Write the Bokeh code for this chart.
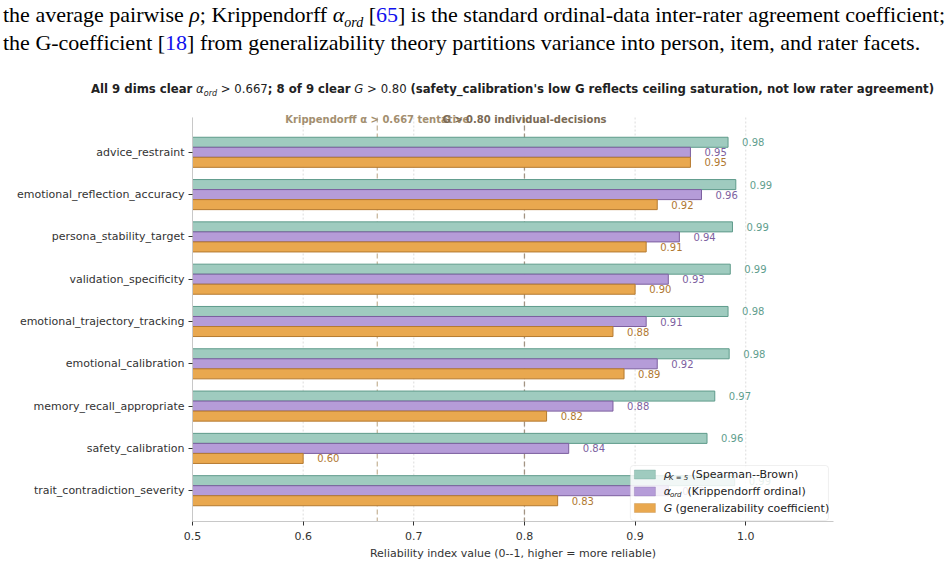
from bokeh.plotting import figure
from bokeh.models import (Range1d, FixedTicker, PrintfTickFormatter, Label, BoxAnnotation,
                          Div, ColumnDataSource)
from bokeh.layouts import column
from bokeh.embed import file_html
from bokeh.resources import INLINE

# ---------------- data ----------------
dims = ["advice_restraint", "emotional_reflection_accuracy", "persona_stability_target",
        "validation_specificity", "emotional_trajectory_tracking", "emotional_calibration",
        "memory_recall_appropriate", "safety_calibration", "trait_contradiction_severity"]
rho_k5 = [0.984, 0.991, 0.988, 0.986, 0.984, 0.985, 0.972, 0.965, 0.990]
alpha_ord = [0.950, 0.960, 0.940, 0.930, 0.910, 0.920, 0.880, 0.840, 0.930]
g_coef = [0.950, 0.920, 0.910, 0.900, 0.880, 0.890, 0.820, 0.600, 0.830]
x_ticks = [0.5, 0.6, 0.7, 0.8, 0.9, 1.0]
thresholds = [0.667, 0.80]

FONT = "DejaVu Sans"
# series styling: (fill, edge, label colour)
styles = [("#9fcbbf", "#5f9b8b", "#5f9e8e"),
          ("#b59cd8", "#7c5f9f", "#7d5fa0"),
          ("#e9a84f", "#b57a30", "#b07830")]
series = [rho_k5, alpha_ord, g_coef]

# ---------------- geometry helpers (page px -> data) ----------------
FIG_TOP = 105
X0_PX, X_SCALE = 192.3, 1106.0
Y0_PX, Y_SCALE = 151.8, 42.3
def px2x(px):
    return 0.5 + (px - X0_PX) / X_SCALE
def px2y(py):
    return (py - Y0_PX) / Y_SCALE

AX_TOP, AX_BOT = 117, 521
BAR_H = 0.237
offsets = [-BAR_H, 0.0, BAR_H]

p = figure(width=947, height=459, output_backend="svg", toolbar_location=None,
           x_range=Range1d(0.5, px2x(833)), y_range=Range1d(px2y(AX_BOT), px2y(109)),
           min_border_left=192, min_border_right=114, min_border_top=4, min_border_bottom=43)
p.outline_line_color = None
p.background_fill_color = "white"
p.border_fill_color = "white"
p.xgrid.visible = False
p.ygrid.visible = False

# grid lines (bounded to the axes area)
p.segment(x0=x_ticks, x1=x_ticks, y0=[px2y(AX_TOP)] * len(x_ticks),
          y1=[px2y(AX_BOT)] * len(x_ticks), line_color="#dcdcdc", line_dash="2 2", line_width=1)

# threshold lines
for t, col in zip(thresholds, ["#c9b89d", "#a39483"]):
    p.segment(x0=[t], x1=[t], y0=[px2y(AX_TOP)], y1=[px2y(AX_BOT)], line_color=col,
              line_dash="5 3", line_width=1.3)

# bars and value labels
idx = list(range(len(dims)))
for vals, off, (fc, ec, tc) in zip(series, offsets, styles):
    ys = [i + off for i in idx]
    src = ColumnDataSource(dict(y=ys, right=vals, lx=[v + 0.0127 for v in vals],
                                txt=[f"{v:.2f}" for v in vals]))
    p.hbar(y="y", right="right", left=0, height=BAR_H, source=src,
           fill_color=fc, line_color=ec, line_width=1)
    p.text(x="lx", y="y", text="txt", source=src, text_color=tc,
           text_font_size="10px", text_baseline="middle", text_align="left",
           text_font={"value": FONT})

# axes
xa = p.xaxis[0]
xa.ticker = FixedTicker(ticks=x_ticks)
xa.formatter = PrintfTickFormatter(format="%.1f")
xa.axis_label = "Reliability index value (0--1, higher = more reliable)"
ya = p.yaxis[0]
ya.ticker = FixedTicker(ticks=idx)
ya.major_label_overrides = {i: d for i, d in enumerate(dims)}
ya.bounds = (px2y(AX_TOP), px2y(AX_BOT))
for ax in (xa, ya):
    ax.minor_tick_line_color = None
    ax.major_tick_in = 0
    ax.major_tick_out = 4
    ax.major_tick_line_color = "#333333"
    ax.axis_line_color = "#c8c8c8"
    ax.major_label_text_font = FONT
    ax.major_label_text_font_size = "11px"
    ax.major_label_text_color = "#333333"
    ax.axis_label_text_font = FONT
    ax.axis_label_text_font_size = "11px"
    ax.axis_label_text_font_style = "normal"
    ax.axis_label_text_color = "#333333"
xa.major_label_standoff = 6
xa.axis_label_standoff = 4
ya.major_label_standoff = 4

# threshold annotations
p.add_layout(Label(x=thresholds[0], y=px2y(118.5), text="Krippendorff \u03b1 > 0.667 tentative",
                   text_align="center", text_baseline="middle", text_font=FONT,
                   text_font_size="10px", text_font_style="bold", text_color="#a38f70"))
p.add_layout(Label(x=thresholds[1], y=px2y(118.5), text="G > 0.80 individual-decisions",
                   text_align="center", text_baseline="middle", text_font=FONT,
                   text_font_size="10px", text_font_style="bold", text_color="#7a6a55"))

# custom legend
p.add_layout(BoxAnnotation(left=px2x(630), right=px2x(828), top=px2y(465), bottom=px2y(520),
                           fill_color="white", fill_alpha=0.85, line_color="#cccccc",
                           line_width=1, border_radius=3))
rows = [474.0, 491.0, 507.5]
for rpy, (fc, ec, tc) in zip(rows, styles):
    p.add_layout(BoxAnnotation(left=px2x(634), right=px2x(655), top=px2y(rpy - 4.5),
                               bottom=px2y(rpy + 4.5), fill_color=fc, fill_alpha=1,
                               line_color=ec, line_width=1))
leg_parts = [
    [(663.3, 0, "\u03c1", "11px", "italic"), (668.5, 3, "K = 5", "7px", "italic"),
     (691.0, 0, "(Spearman--Brown)", "11px", "normal")],
    [(663.3, 0, "\u03b1", "11px", "italic"), (669.5, 3, "ord", "7px", "italic"),
     (687.0, 0, "(Krippendorff ordinal)", "11px", "normal")],
    [(663.3, 0, "G", "11px", "italic"),
     (675.0, 0, "(generalizability coefficient)", "11px", "normal")],
]
for rpy, parts in zip(rows, leg_parts):
    for xpx, dy, txt, fs, st in parts:
        p.add_layout(Label(x=px2x(xpx), y=px2y(rpy + dy), text=txt, text_align="left",
                           text_baseline="middle", text_font=FONT, text_font_size=fs,
                           text_font_style=st, text_color="#222222"))

# ---------------- header text ----------------
SUB = "position:relative;top:5px;font-size:14px;line-height:0;"
SUB_T = "position:relative;top:3px;font-size:8px;line-height:0;"
para = (
    "<div style=\"font-family:'Liberation Serif',serif;font-size:22px;line-height:28px;"
    "color:#000;white-space:nowrap;padding:1px 0 0 3px;height:58px;\">"
    f"the average pairwise <i>\u03c1</i>; Krippendorff <i>\u03b1<span style='{SUB}'>ord</span></i> "
    "[<span style='color:#1010ee'>65</span>] is the standard ordinal-data inter-rater agreement coefficient;<br>"
    "the G-coefficient [<span style='color:#1010ee'>18</span>] from generalizability theory partitions "
    "variance into person, item, and rater facets.</div>"
    "<div style=\"font-family:'DejaVu Sans';font-size:11.7px;line-height:16px;color:#222;"
    "white-space:nowrap;text-align:center;width:947px;padding-left:78px;box-sizing:border-box;"
    "margin-top:23px;\">"
    f"<b>All 9 dims clear</b> <i>\u03b1<span style='{SUB_T}'>ord</span></i> &gt; 0.667<b>; 8 of 9 clear</b> "
    "<i>G</i> &gt; 0.80 <b>(safety_calibration's low G reflects ceiling saturation, not low rater agreement)</b>"
    "</div>"
)
header = Div(text=para, width=947, height=FIG_TOP, margin=(0, 0, 0, 0))

layout = column(header, p, spacing=0, margin=(0, 0, 0, 0))
open("out.html", "w").write(file_html(layout, INLINE))
